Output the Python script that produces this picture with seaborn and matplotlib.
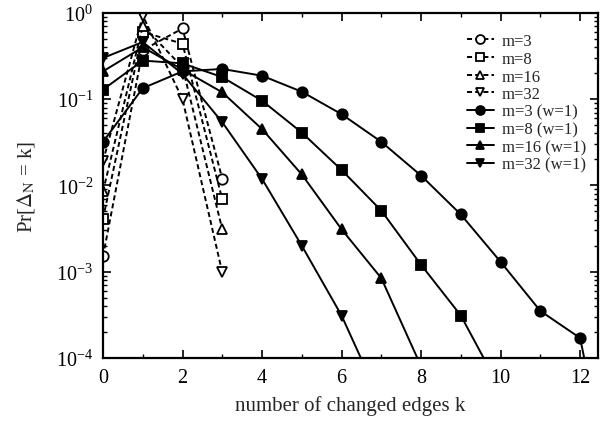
import numpy as np
import pandas as pd
import matplotlib
matplotlib.use("Agg")
import matplotlib.pyplot as plt
import seaborn as sns
from matplotlib.ticker import LogLocator, MultipleLocator, NullFormatter

# ---- data ----
k_dashed = [0, 1, 2, 3]
m3 = [0.0015, 0.37, 0.66, 0.012]
m8 = [0.0041, 0.60, 0.44, 0.0069]
m16 = [0.0085, 0.71, 0.235, 0.0031]
m32 = [0.019, 0.93, 0.10, 0.00098]

k_w3 = [0, 1, 2, 3, 4, 5, 6, 7, 8, 9, 10, 11, 12, 13]
m3_w1 = [0.032, 0.134, 0.21, 0.224, 0.187, 0.122, 0.067, 0.032, 0.013,
         0.0046, 0.0013, 0.00035, 0.00017, 0.000001]
k_w8 = [0, 1, 2, 3, 4, 5, 6, 7, 8, 9, 10]
m8_w1 = [0.129, 0.28, 0.26, 0.18, 0.096, 0.041, 0.0151, 0.0051, 0.0012,
         0.00031, 0.000043]
k_w16 = [0, 1, 2, 3, 4, 5, 6, 7, 8]
m16_w1 = [0.21, 0.40, 0.22, 0.12, 0.045, 0.0134, 0.0031, 0.00084, 0.00008]
k_w32 = [0, 1, 2, 3, 4, 5, 6, 7]
m32_w1 = [0.30, 0.46, 0.196, 0.054, 0.0119, 0.0020, 0.00031, 0.00003]

DASH = (0, (2.6, 1.6))
series = [
    ("m=3", k_dashed, m3, "o", DASH, "white"),
    ("m=8", k_dashed, m8, "s", DASH, "white"),
    ("m=16", k_dashed, m16, "^", DASH, "white"),
    ("m=32", k_dashed, m32, "v", DASH, "white"),
    ("m=3 (w=1)", k_w3, m3_w1, "o", "-", "black"),
    ("m=8 (w=1)", k_w8, m8_w1, "s", "-", "black"),
    ("m=16 (w=1)", k_w16, m16_w1, "^", "-", "black"),
    ("m=32 (w=1)", k_w32, m32_w1, "v", "-", "black"),
]

sns.set_theme(style="ticks")
plt.rcParams["font.family"] = ["Liberation Serif", "DejaVu Serif"]
plt.rcParams["mathtext.fontset"] = "stix"

fig = plt.figure(figsize=(6.13, 4.35), dpi=100)
ax = fig.add_axes([0.168, 0.175, 0.8075, 0.793])

for label, xs, ys, mk, ls, fc in series:
    df = pd.DataFrame({"k": xs, "p": ys})
    sns.lineplot(data=df, x="k", y="p", ax=ax, color="black", linewidth=1.4,
                 linestyle=ls, marker=mk, markersize=7.5 if mk == "o" else 7,
                 markerfacecolor=fc, markeredgecolor="black",
                 markeredgewidth=1.3, label=label, sort=False)

ax.set_yscale("log")
ax.set_ylim(1e-4, 1)
ax.set_xlim(0, 12.45)
ax.xaxis.set_major_locator(MultipleLocator(2))
ax.xaxis.set_minor_locator(MultipleLocator(1))
ax.yaxis.set_major_locator(LogLocator(base=10, numticks=10))
ax.yaxis.set_minor_locator(LogLocator(base=10, subs=np.arange(2, 10), numticks=20))
ax.yaxis.set_minor_formatter(NullFormatter())

ax.tick_params(which="both", direction="in", top=True, right=True, colors="black")
ax.tick_params(which="major", length=6, width=1.2, labelsize=14.5, pad=7)
ax.tick_params(which="minor", length=3, width=1.0)
for s in ax.spines.values():
    s.set_linewidth(1.6)
    s.set_color("black")

ax.set_xlabel("number of changed edges k", fontsize=15, labelpad=6)
ax.set_ylabel(r"Pr[$\Delta_{\mathrm{N}}$ = k]", fontsize=15, labelpad=14)

leg = ax.legend(loc="upper right", bbox_to_anchor=(1.0, 0.975), frameon=False,
                fontsize=12, handlelength=1.6, handletextpad=0.5,
                labelspacing=0.1, borderaxespad=0.3, markerscale=0.85)

fig.savefig("out.png", dpi=100)
